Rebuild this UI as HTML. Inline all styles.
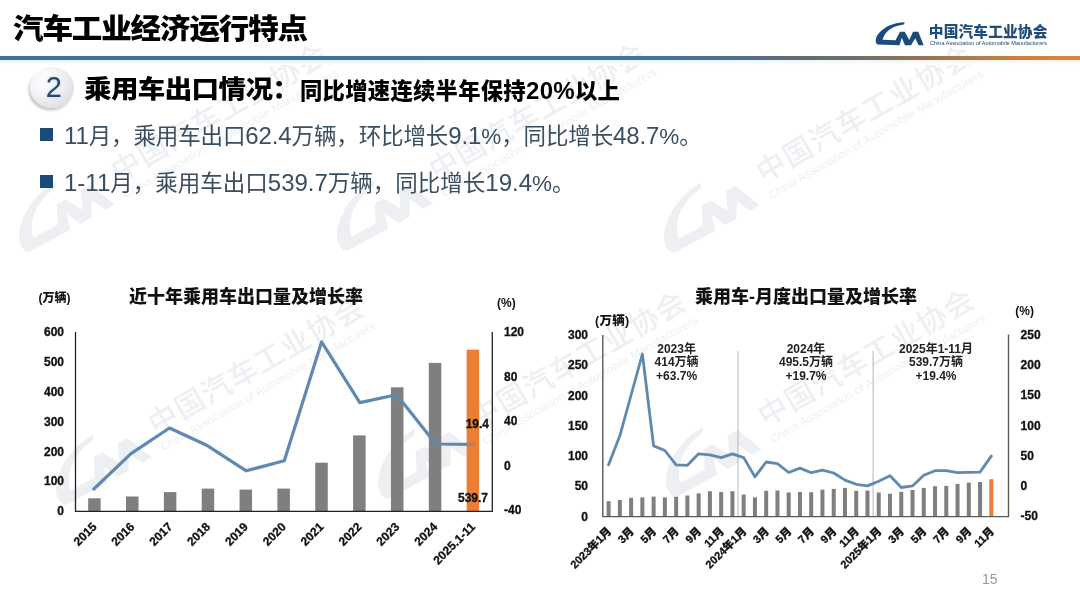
<!DOCTYPE html>
<html><head><meta charset="utf-8">
<style>
html,body{margin:0;padding:0;background:#fff;}
body{width:1080px;height:607px;position:relative;overflow:hidden;font-family:"Liberation Sans","Noto Sans CJK SC",sans-serif;}
.abs{position:absolute;white-space:nowrap;}
#title{left:13px;top:7.5px;font-size:30.5px;font-weight:900;color:#000;line-height:40px;letter-spacing:-1.1px;transform:scaleY(0.935);transform-origin:0 34px;}
#hline{left:0;top:56px;width:1080px;height:3.5px;background:linear-gradient(90deg,#3f6f98 0%,#4273a2 60%,#50708e 66%,#5d6a78 72%,#716d6a 79%,#947558 86%,#c08049 93%,#d7873f 100%);}
#tint{left:0;top:59.5px;width:1080px;height:5px;background:linear-gradient(180deg,rgba(255,255,255,0) 0%,#fff 100%),linear-gradient(90deg,#dff5fb 0%,#e4f7fa 70%,#fbf1e2 100%);}
#badge{left:30px;top:67px;width:44px;height:41px;border-radius:50%;background:radial-gradient(ellipse at 36% 36%,#ffffff 0%,#f5f6f8 35%,#e3e4e8 66%,#cbccd2 100%);box-shadow:-1.5px 2.5px 2.5px rgba(0,0,0,0.22);}
#badge span{position:absolute;left:1.8px;top:0;width:44px;text-align:center;font-size:29px;line-height:41px;color:#2b4562;text-shadow:0 0 3px #c4dbef,0 0 5px #d4e6f5;font-family:"Liberation Sans",sans-serif;}
#sub1{left:84px;top:71px;font-size:27.5px;font-weight:900;color:#000;line-height:36px;letter-spacing:-0.6px;transform:scaleY(0.915);transform-origin:0 29px;}
#sub2{left:300px;top:73.5px;font-size:22.3px;font-weight:900;color:#000;line-height:34px;letter-spacing:0.3px;}
#sub2 i{font-style:normal;font-size:24px;font-weight:700;}
.bul{width:13px;height:13px;background:#1c4b78;}
.btxt{font-size:22.5px;color:#3a4e62;line-height:30px;}
.btxt i{font-style:normal;font-size:24px;}
#ctitle1{left:129px;top:284.5px;font-size:18px;font-weight:900;color:#111;line-height:24px;}
#ctitle2{left:695px;top:284.5px;font-size:18px;font-weight:900;color:#111;line-height:24px;}
#pg{left:982px;top:569px;font-size:14px;color:#999;line-height:20px;}
#logocn{left:928.8px;top:21.5px;font-size:14.7px;letter-spacing:0.15px;font-weight:900;color:#1f4e7d;line-height:20px;}
#logoen{left:929.5px;top:41.3px;font-size:10px;color:#23476e;line-height:10px;transform-origin:0 0;transform:scale(0.558,0.52);}
svg text.ax{font-family:"Liberation Sans","Noto Sans CJK SC",sans-serif;font-size:12px;font-weight:900;fill:#111;stroke:#111;stroke-width:0.3px;}
svg text.unit{font-family:"Liberation Sans","Noto Sans CJK SC",sans-serif;font-size:12px;font-weight:900;fill:#111;}
svg text.axr{font-family:"Liberation Sans","Noto Sans CJK SC",sans-serif;font-size:11px;font-weight:900;fill:#111;stroke:#111;stroke-width:0.3px;}
svg text.ann{font-family:"Liberation Sans","Noto Sans CJK SC",sans-serif;font-size:12px;font-weight:700;fill:#222;}
</style></head><body>
<svg class="abs" style="left:0;top:0" width="1080" height="607" viewBox="0 0 1080 607" fill="#edeff3"><g transform="translate(29,252) rotate(-30) scale(2.12) translate(-877.4,-44.6)"><path d="M904.9,22.2 L903.7,24.4 C899,25 893,26.6 888.3,30.4 C885.5,33 883.5,36 882.5,39.8 L895.5,40.2 L900,31.7 L904.7,31.7 L909.3,40 L913,31.7 L918.3,31.7 L923.7,45.3 L918.5,45.3 L915.3,38.3 L911,45.3 L905,45.3 L901.8,37.8 L899.5,45.3 L877.4,44.6 C875.5,43 875.3,40.5 876.2,37.5 C878.5,32 884,28 890,25.2 C895,23.2 900,22.4 904.9,22.2 Z"/><text x="930.5" y="37.4" font-size="13.8" font-weight="500" letter-spacing="0.6" font-family="Liberation Sans,Noto Sans CJK SC,sans-serif">中国汽车工业协会</text><text x="929.8" y="45.6" font-size="5.4" textLength="116" lengthAdjust="spacingAndGlyphs" font-family="Liberation Sans,sans-serif">China Association of Automobile Manufacturers</text></g><g transform="translate(347,251) rotate(-30) scale(2.12) translate(-877.4,-44.6)"><path d="M904.9,22.2 L903.7,24.4 C899,25 893,26.6 888.3,30.4 C885.5,33 883.5,36 882.5,39.8 L895.5,40.2 L900,31.7 L904.7,31.7 L909.3,40 L913,31.7 L918.3,31.7 L923.7,45.3 L918.5,45.3 L915.3,38.3 L911,45.3 L905,45.3 L901.8,37.8 L899.5,45.3 L877.4,44.6 C875.5,43 875.3,40.5 876.2,37.5 C878.5,32 884,28 890,25.2 C895,23.2 900,22.4 904.9,22.2 Z"/><text x="930.5" y="37.4" font-size="13.8" font-weight="500" letter-spacing="0.6" font-family="Liberation Sans,Noto Sans CJK SC,sans-serif">中国汽车工业协会</text><text x="929.8" y="45.6" font-size="5.4" textLength="116" lengthAdjust="spacingAndGlyphs" font-family="Liberation Sans,sans-serif">China Association of Automobile Manufacturers</text></g><g transform="translate(674,253) rotate(-30) scale(2.12) translate(-877.4,-44.6)"><path d="M904.9,22.2 L903.7,24.4 C899,25 893,26.6 888.3,30.4 C885.5,33 883.5,36 882.5,39.8 L895.5,40.2 L900,31.7 L904.7,31.7 L909.3,40 L913,31.7 L918.3,31.7 L923.7,45.3 L918.5,45.3 L915.3,38.3 L911,45.3 L905,45.3 L901.8,37.8 L899.5,45.3 L877.4,44.6 C875.5,43 875.3,40.5 876.2,37.5 C878.5,32 884,28 890,25.2 C895,23.2 900,22.4 904.9,22.2 Z"/><text x="930.5" y="37.4" font-size="13.8" font-weight="500" letter-spacing="0.6" font-family="Liberation Sans,Noto Sans CJK SC,sans-serif">中国汽车工业协会</text><text x="929.8" y="45.6" font-size="5.4" textLength="116" lengthAdjust="spacingAndGlyphs" font-family="Liberation Sans,sans-serif">China Association of Automobile Manufacturers</text></g><g transform="translate(66,505) rotate(-30) scale(2.12) translate(-877.4,-44.6)"><path d="M904.9,22.2 L903.7,24.4 C899,25 893,26.6 888.3,30.4 C885.5,33 883.5,36 882.5,39.8 L895.5,40.2 L900,31.7 L904.7,31.7 L909.3,40 L913,31.7 L918.3,31.7 L923.7,45.3 L918.5,45.3 L915.3,38.3 L911,45.3 L905,45.3 L901.8,37.8 L899.5,45.3 L877.4,44.6 C875.5,43 875.3,40.5 876.2,37.5 C878.5,32 884,28 890,25.2 C895,23.2 900,22.4 904.9,22.2 Z"/><text x="930.5" y="37.4" font-size="13.8" font-weight="500" letter-spacing="0.6" font-family="Liberation Sans,Noto Sans CJK SC,sans-serif">中国汽车工业协会</text><text x="929.8" y="45.6" font-size="5.4" textLength="116" lengthAdjust="spacingAndGlyphs" font-family="Liberation Sans,sans-serif">China Association of Automobile Manufacturers</text></g><g transform="translate(388,499) rotate(-30) scale(2.12) translate(-877.4,-44.6)"><path d="M904.9,22.2 L903.7,24.4 C899,25 893,26.6 888.3,30.4 C885.5,33 883.5,36 882.5,39.8 L895.5,40.2 L900,31.7 L904.7,31.7 L909.3,40 L913,31.7 L918.3,31.7 L923.7,45.3 L918.5,45.3 L915.3,38.3 L911,45.3 L905,45.3 L901.8,37.8 L899.5,45.3 L877.4,44.6 C875.5,43 875.3,40.5 876.2,37.5 C878.5,32 884,28 890,25.2 C895,23.2 900,22.4 904.9,22.2 Z"/><text x="930.5" y="37.4" font-size="13.8" font-weight="500" letter-spacing="0.6" font-family="Liberation Sans,Noto Sans CJK SC,sans-serif">中国汽车工业协会</text><text x="929.8" y="45.6" font-size="5.4" textLength="116" lengthAdjust="spacingAndGlyphs" font-family="Liberation Sans,sans-serif">China Association of Automobile Manufacturers</text></g><g transform="translate(676,497) rotate(-30) scale(2.12) translate(-877.4,-44.6)"><path d="M904.9,22.2 L903.7,24.4 C899,25 893,26.6 888.3,30.4 C885.5,33 883.5,36 882.5,39.8 L895.5,40.2 L900,31.7 L904.7,31.7 L909.3,40 L913,31.7 L918.3,31.7 L923.7,45.3 L918.5,45.3 L915.3,38.3 L911,45.3 L905,45.3 L901.8,37.8 L899.5,45.3 L877.4,44.6 C875.5,43 875.3,40.5 876.2,37.5 C878.5,32 884,28 890,25.2 C895,23.2 900,22.4 904.9,22.2 Z"/><text x="930.5" y="37.4" font-size="13.8" font-weight="500" letter-spacing="0.6" font-family="Liberation Sans,Noto Sans CJK SC,sans-serif">中国汽车工业协会</text><text x="929.8" y="45.6" font-size="5.4" textLength="116" lengthAdjust="spacingAndGlyphs" font-family="Liberation Sans,sans-serif">China Association of Automobile Manufacturers</text></g></svg>
<div class="abs" id="title">汽车工业经济运行特点</div>
<div class="abs" id="hline"></div>
<div class="abs" id="tint"></div>
<div class="abs" id="badge"><span>2</span></div>
<div class="abs" id="sub1">乘用车出口情况：</div>
<div class="abs" id="sub2">同比增速连续半年保持<i>20%</i>以上</div>
<div class="abs bul" style="left:40px;top:128px;"></div>
<div class="abs btxt" style="left:64px;top:121px;letter-spacing:-0.12px;"><i>11</i>月，乘用车出口<i>62.4</i>万辆，环比增长<i>9.1</i>%，同比增长<i>48.7</i>%。</div>
<div class="abs bul" style="left:40px;top:175px;"></div>
<div class="abs btxt" style="left:64px;top:168px;"><i>1-11</i>月，乘用车出口<i>539.7</i>万辆，同比增长<i>19.4</i>%。</div>
<div class="abs" id="ctitle1">近十年乘用车出口量及增长率</div>
<div class="abs" id="ctitle2">乘用车-月度出口量及增长率</div>
<div class="abs" id="logocn">中国汽车工业协会</div>
<div class="abs" id="logoen">China Association of Automobile Manufacturers</div>
<div class="abs" id="pg">15</div>
<svg class="abs" style="left:0;top:0" width="1080" height="607" viewBox="0 0 1080 607">
<path d="M904.9,22.2 L903.7,24.4 C899,25 893,26.6 888.3,30.4 C885.5,33 883.5,36 882.5,39.8 L895.5,40.2 L900,31.7 L904.7,31.7 L909.3,40 L913,31.7 L918.3,31.7 L923.7,45.3 L918.5,45.3 L915.3,38.3 L911,45.3 L905,45.3 L901.8,37.8 L899.5,45.3 L877.4,44.6 C875.5,43 875.3,40.5 876.2,37.5 C878.5,32 884,28 890,25.2 C895,23.2 900,22.4 904.9,22.2 Z" fill="#1b4b7d"/>
<g><rect x="88.15" y="498.3" width="12.5" height="12.7" fill="#7f7f7f"/><rect x="126.00" y="496.5" width="12.5" height="14.5" fill="#7f7f7f"/><rect x="163.85" y="492.1" width="12.5" height="18.9" fill="#7f7f7f"/><rect x="201.70" y="488.6" width="12.5" height="22.4" fill="#7f7f7f"/><rect x="239.55" y="489.6" width="12.5" height="21.4" fill="#7f7f7f"/><rect x="277.40" y="488.6" width="12.5" height="22.4" fill="#7f7f7f"/><rect x="315.25" y="462.7" width="12.5" height="48.3" fill="#7f7f7f"/><rect x="353.10" y="435.4" width="12.5" height="75.6" fill="#7f7f7f"/><rect x="390.95" y="387.3" width="12.5" height="123.7" fill="#7f7f7f"/><rect x="428.80" y="362.9" width="12.5" height="148.1" fill="#7f7f7f"/><rect x="466.65" y="349.7" width="12.5" height="161.3" fill="#ed7d31"/><polyline points="93.8,489.0 131.0,453.6 169.5,428.0 207.7,445.8 246.2,470.8 284.3,460.8 321.6,341.9 359.8,402.6 396.7,394.8 435.8,444.0 473.5,444.4" fill="none" stroke="#6089b2" stroke-width="3.2" stroke-linejoin="round" stroke-linecap="round"/><line x1="467" y1="444.4" x2="474.5" y2="444.4" stroke="#ed7d31" stroke-opacity="0.55" stroke-width="3.6"/><path d="M75.5,332 V511.3 H492.3 V332" fill="none" stroke="#222" stroke-width="1.3"/><text x="64" y="336.4" text-anchor="end" class="ax">600</text><text x="64" y="366.2" text-anchor="end" class="ax">500</text><text x="64" y="396.0" text-anchor="end" class="ax">400</text><text x="64" y="425.8" text-anchor="end" class="ax">300</text><text x="64" y="455.6" text-anchor="end" class="ax">200</text><text x="64" y="485.4" text-anchor="end" class="ax">100</text><text x="64" y="515.2" text-anchor="end" class="ax">0</text><text x="504" y="336.0" class="ax">120</text><text x="504" y="380.6" class="ax">80</text><text x="504" y="425.2" class="ax">40</text><text x="504" y="469.8" class="ax">0</text><text x="504" y="514.4" class="ax">-40</text><text transform="translate(97.4,527.5) rotate(-45)" text-anchor="end" class="ax">2015</text><text transform="translate(135.2,527.5) rotate(-45)" text-anchor="end" class="ax">2016</text><text transform="translate(173.1,527.5) rotate(-45)" text-anchor="end" class="ax">2017</text><text transform="translate(210.9,527.5) rotate(-45)" text-anchor="end" class="ax">2018</text><text transform="translate(248.8,527.5) rotate(-45)" text-anchor="end" class="ax">2019</text><text transform="translate(286.6,527.5) rotate(-45)" text-anchor="end" class="ax">2020</text><text transform="translate(324.5,527.5) rotate(-45)" text-anchor="end" class="ax">2021</text><text transform="translate(362.4,527.5) rotate(-45)" text-anchor="end" class="ax">2022</text><text transform="translate(400.2,527.5) rotate(-45)" text-anchor="end" class="ax">2023</text><text transform="translate(438.1,527.5) rotate(-45)" text-anchor="end" class="ax">2024</text><text transform="translate(475.9,527.5) rotate(-45)" text-anchor="end" class="ax">2025.1-11</text><text x="489" y="428" text-anchor="end" class="ax">19.4</text><text x="488" y="501.5" text-anchor="end" class="ax">539.7</text><text x="38.5" y="302" class="unit">(万辆)</text><text x="497" y="306.8" class="unit">(%)</text></g><g><line x1="738" y1="351" x2="738" y2="516" stroke="#a6a6a6" stroke-width="0.8"/><line x1="873.1" y1="351" x2="873.1" y2="516" stroke="#a6a6a6" stroke-width="0.8"/><rect x="606.60" y="501.2" width="4" height="15.3" fill="#7f7f7f"/><rect x="617.86" y="499.9" width="4" height="16.6" fill="#7f7f7f"/><rect x="629.11" y="497.8" width="4" height="18.7" fill="#7f7f7f"/><rect x="640.37" y="497.4" width="4" height="19.1" fill="#7f7f7f"/><rect x="651.62" y="496.6" width="4" height="19.9" fill="#7f7f7f"/><rect x="662.88" y="497.4" width="4" height="19.1" fill="#7f7f7f"/><rect x="674.14" y="496.8" width="4" height="19.7" fill="#7f7f7f"/><rect x="685.39" y="495.5" width="4" height="21.0" fill="#7f7f7f"/><rect x="696.65" y="493.3" width="4" height="23.2" fill="#7f7f7f"/><rect x="707.90" y="491.2" width="4" height="25.3" fill="#7f7f7f"/><rect x="719.16" y="492.0" width="4" height="24.5" fill="#7f7f7f"/><rect x="730.42" y="491.2" width="4" height="25.3" fill="#7f7f7f"/><rect x="741.67" y="494.5" width="4" height="22.0" fill="#7f7f7f"/><rect x="752.93" y="497.4" width="4" height="19.1" fill="#7f7f7f"/><rect x="764.18" y="490.8" width="4" height="25.7" fill="#7f7f7f"/><rect x="775.44" y="490.5" width="4" height="26.0" fill="#7f7f7f"/><rect x="786.70" y="492.5" width="4" height="24.0" fill="#7f7f7f"/><rect x="797.95" y="492.0" width="4" height="24.5" fill="#7f7f7f"/><rect x="809.21" y="492.2" width="4" height="24.3" fill="#7f7f7f"/><rect x="820.46" y="489.7" width="4" height="26.8" fill="#7f7f7f"/><rect x="831.72" y="488.9" width="4" height="27.6" fill="#7f7f7f"/><rect x="842.98" y="487.9" width="4" height="28.6" fill="#7f7f7f"/><rect x="854.23" y="490.8" width="4" height="25.7" fill="#7f7f7f"/><rect x="865.49" y="490.5" width="4" height="26.0" fill="#7f7f7f"/><rect x="876.74" y="492.5" width="4" height="24.0" fill="#7f7f7f"/><rect x="888.00" y="493.8" width="4" height="22.7" fill="#7f7f7f"/><rect x="899.26" y="491.8" width="4" height="24.7" fill="#7f7f7f"/><rect x="910.51" y="490.0" width="4" height="26.5" fill="#7f7f7f"/><rect x="921.77" y="487.9" width="4" height="28.6" fill="#7f7f7f"/><rect x="933.02" y="486.2" width="4" height="30.3" fill="#7f7f7f"/><rect x="944.28" y="485.9" width="4" height="30.6" fill="#7f7f7f"/><rect x="955.54" y="483.9" width="4" height="32.6" fill="#7f7f7f"/><rect x="966.79" y="482.6" width="4" height="33.9" fill="#7f7f7f"/><rect x="978.05" y="482.0" width="4" height="34.5" fill="#7f7f7f"/><rect x="989.30" y="479.2" width="4" height="37.3" fill="#ed7d31"/><polyline points="608.6,464.8 619.9,435.6 631.1,395.0 642.4,354.0 653.6,445.9 664.9,450.5 676.1,464.8 687.4,465.3 698.6,453.8 709.9,454.9 721.2,457.6 732.4,453.8 743.7,457.6 754.9,476.8 766.2,462.0 777.4,463.7 788.7,472.5 800.0,468.1 811.2,472.7 822.5,470.2 833.7,473.0 845.0,480.1 856.2,484.3 867.5,485.9 878.7,481.2 890.0,475.7 901.3,487.5 912.5,485.9 923.8,475.2 935.0,470.7 946.3,470.7 957.5,472.7 968.8,472.4 980.0,472.1 991.3,456.1" fill="none" stroke="#6089b2" stroke-width="2.8" stroke-linejoin="round" stroke-linecap="round"/><path d="M602.8,335 V516.6 H1008.5 V334.5" fill="none" stroke="#595959" stroke-width="1.4"/><text x="588" y="339.2" text-anchor="end" class="ax">300</text><text x="588" y="369.4" text-anchor="end" class="ax">250</text><text x="588" y="399.7" text-anchor="end" class="ax">200</text><text x="588" y="429.9" text-anchor="end" class="ax">150</text><text x="588" y="460.2" text-anchor="end" class="ax">100</text><text x="588" y="490.4" text-anchor="end" class="ax">50</text><text x="588" y="520.7" text-anchor="end" class="ax">0</text><text x="1020.6" y="338.6" class="ax">250</text><text x="1020.6" y="368.9" class="ax">200</text><text x="1020.6" y="399.2" class="ax">150</text><text x="1020.6" y="429.5" class="ax">100</text><text x="1020.6" y="459.7" class="ax">50</text><text x="1020.6" y="490.0" class="ax">0</text><text x="1020.6" y="520.3" class="ax">-50</text><text transform="translate(612.1,532) rotate(-45)" text-anchor="end" class="axr">2023年1月</text><text transform="translate(634.6,532) rotate(-45)" text-anchor="end" class="axr">3月</text><text transform="translate(657.1,532) rotate(-45)" text-anchor="end" class="axr">5月</text><text transform="translate(679.6,532) rotate(-45)" text-anchor="end" class="axr">7月</text><text transform="translate(702.1,532) rotate(-45)" text-anchor="end" class="axr">9月</text><text transform="translate(724.7,532) rotate(-45)" text-anchor="end" class="axr">11月</text><text transform="translate(747.2,532) rotate(-45)" text-anchor="end" class="axr">2024年1月</text><text transform="translate(769.7,532) rotate(-45)" text-anchor="end" class="axr">3月</text><text transform="translate(792.2,532) rotate(-45)" text-anchor="end" class="axr">5月</text><text transform="translate(814.7,532) rotate(-45)" text-anchor="end" class="axr">7月</text><text transform="translate(837.2,532) rotate(-45)" text-anchor="end" class="axr">9月</text><text transform="translate(859.7,532) rotate(-45)" text-anchor="end" class="axr">11月</text><text transform="translate(882.2,532) rotate(-45)" text-anchor="end" class="axr">2025年1月</text><text transform="translate(904.8,532) rotate(-45)" text-anchor="end" class="axr">3月</text><text transform="translate(927.3,532) rotate(-45)" text-anchor="end" class="axr">5月</text><text transform="translate(949.8,532) rotate(-45)" text-anchor="end" class="axr">7月</text><text transform="translate(972.3,532) rotate(-45)" text-anchor="end" class="axr">9月</text><text transform="translate(994.8,532) rotate(-45)" text-anchor="end" class="axr">11月</text><text x="595" y="325" class="unit" style="font-size:12.5px;letter-spacing:0.3px">(万辆)</text><text x="1015.3" y="314.6" class="unit">(%)</text><text x="676.6" y="352.5" text-anchor="middle" class="ann">2023年</text><text x="676.6" y="366.1" text-anchor="middle" class="ann">414万辆</text><text x="676.6" y="379.7" text-anchor="middle" class="ann">+63.7%</text><text x="806" y="352.5" text-anchor="middle" class="ann">2024年</text><text x="806" y="366.1" text-anchor="middle" class="ann">495.5万辆</text><text x="806" y="379.7" text-anchor="middle" class="ann">+19.7%</text><text x="936" y="352.5" text-anchor="middle" class="ann">2025年1-11月</text><text x="936" y="366.1" text-anchor="middle" class="ann">539.7万辆</text><text x="936" y="379.7" text-anchor="middle" class="ann">+19.4%</text></g>
</svg>
</body></html>
